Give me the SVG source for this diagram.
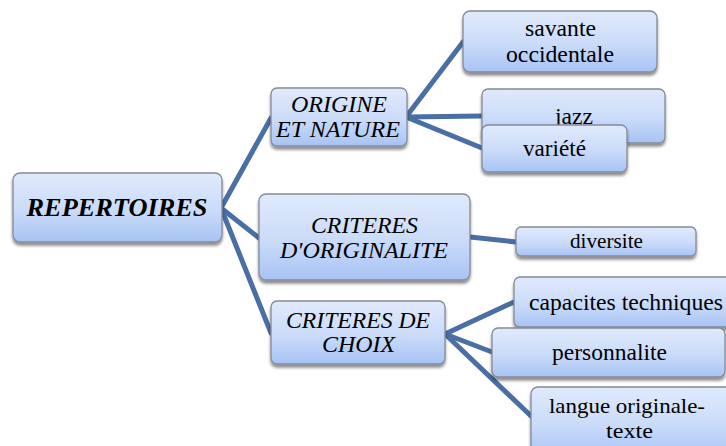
<svg xmlns="http://www.w3.org/2000/svg" width="726" height="446" viewBox="0 0 726 446" font-family="'Liberation Serif', 'Times New Roman', 'DejaVu Serif', serif">
<defs>
<linearGradient id="g" x1="0" y1="0" x2="0" y2="1">
<stop offset="0" stop-color="#e0eafc"/>
<stop offset="0.55" stop-color="#cadbf9"/>
<stop offset="1" stop-color="#a7c3f5"/>
</linearGradient>
<filter id="sh" x="-10%" y="-10%" width="120%" height="140%">
<feGaussianBlur in="SourceAlpha" stdDeviation="1.6"/>
<feOffset dx="0" dy="2.5"/>
<feComponentTransfer><feFuncA type="linear" slope="0.45"/></feComponentTransfer>
<feMerge><feMergeNode/><feMergeNode in="SourceGraphic"/></feMerge>
</filter>
</defs>
<style>
.box{fill:url(#g);stroke:#858b96;stroke-width:1.3;filter:url(#sh)}
text{fill:#000;text-anchor:middle}
.i{font-style:italic;font-size:24px}
.r{font-size:23.5px}
.s{font-size:21.5px}
.c{stroke:#4a6fa5;stroke-width:5;fill:none;stroke-linecap:round}
</style>
<rect width="726" height="446" fill="#fff"/>
<g id="connectors">
<line class="c" x1="221" y1="208" x2="271" y2="118"/>
<line class="c" x1="221" y1="208" x2="259" y2="238"/>
<line class="c" x1="221" y1="208" x2="271" y2="333"/>
<line class="c" x1="406" y1="117" x2="463" y2="42"/>
<line class="c" x1="406" y1="117" x2="482" y2="116"/>
<line class="c" x1="406" y1="117" x2="482" y2="148"/>
<line class="c" x1="470" y1="237" x2="516" y2="242"/>
<line class="c" x1="445" y1="334" x2="514" y2="302"/>
<line class="c" x1="445" y1="334" x2="492" y2="352"/>
<line class="c" x1="445" y1="334" x2="531" y2="416"/>
</g>
<g id="repertoires">
<rect class="box" x="13" y="173" width="209" height="69" rx="7"/>
<text x="117" y="216" font-size="26" font-weight="bold" font-style="italic" textLength="181" lengthAdjust="spacingAndGlyphs">REPERTOIRES</text>
</g>
<g id="origine">
<rect class="box" x="271" y="88" width="136" height="58" rx="6"/>
<text class="i" x="339" y="112" textLength="96" lengthAdjust="spacingAndGlyphs">ORIGINE</text>
<text class="i" x="338" y="137" textLength="124" lengthAdjust="spacingAndGlyphs">ET NATURE</text>
</g>
<g id="originalite">
<rect class="box" x="259" y="194" width="211" height="86" rx="7"/>
<text class="i" x="364.5" y="233" textLength="107" lengthAdjust="spacingAndGlyphs">CRITERES</text>
<text class="i" x="364" y="258" textLength="168" lengthAdjust="spacingAndGlyphs">D'ORIGINALITE</text>
</g>
<g id="choix">
<rect class="box" x="271" y="301" width="174" height="63" rx="6"/>
<text class="i" x="358" y="328" textLength="144" lengthAdjust="spacingAndGlyphs">CRITERES DE</text>
<text class="i" x="358.5" y="352" textLength="73" lengthAdjust="spacingAndGlyphs">CHOIX</text>
</g>
<g id="savante">
<rect class="box" x="463" y="11" width="194" height="61" rx="7"/>
<text class="r" x="560.5" y="36" textLength="71" lengthAdjust="spacingAndGlyphs">savante</text>
<text class="r" x="560" y="62" textLength="108" lengthAdjust="spacingAndGlyphs">occidentale</text>
</g>
<g id="jazz">
<rect class="box" x="482" y="89" width="183" height="54" rx="6"/>
<text class="r" x="574" y="124" textLength="38" lengthAdjust="spacingAndGlyphs">jazz</text>
</g>
<g id="variete">
<rect class="box" x="482" y="125" width="145" height="47" rx="6"/>
<text class="r" x="554.5" y="156" textLength="63" lengthAdjust="spacingAndGlyphs">variété</text>
</g>
<g id="diversite">
<rect class="box" x="516" y="227" width="180" height="29" rx="5"/>
<text x="606.5" y="248" font-size="21" textLength="73" lengthAdjust="spacingAndGlyphs">diversite</text>
</g>
<g id="capacites">
<rect class="box" x="514" y="277" width="220" height="50" rx="6"/>
<text class="r" x="626" y="310" textLength="194" lengthAdjust="spacingAndGlyphs">capacites techniques</text>
</g>
<g id="personnalite">
<rect class="box" x="492" y="328" width="233" height="49" rx="6"/>
<text class="r" x="609.5" y="360" textLength="115" lengthAdjust="spacingAndGlyphs">personnalite</text>
</g>
<g id="langue">
<rect class="box" x="531" y="387" width="205" height="70" rx="7"/>
<text class="s" x="627" y="413" textLength="156" lengthAdjust="spacingAndGlyphs">langue originale-</text>
<text class="s" x="629.5" y="438" textLength="47" lengthAdjust="spacingAndGlyphs">texte</text>
</g>
</svg>
